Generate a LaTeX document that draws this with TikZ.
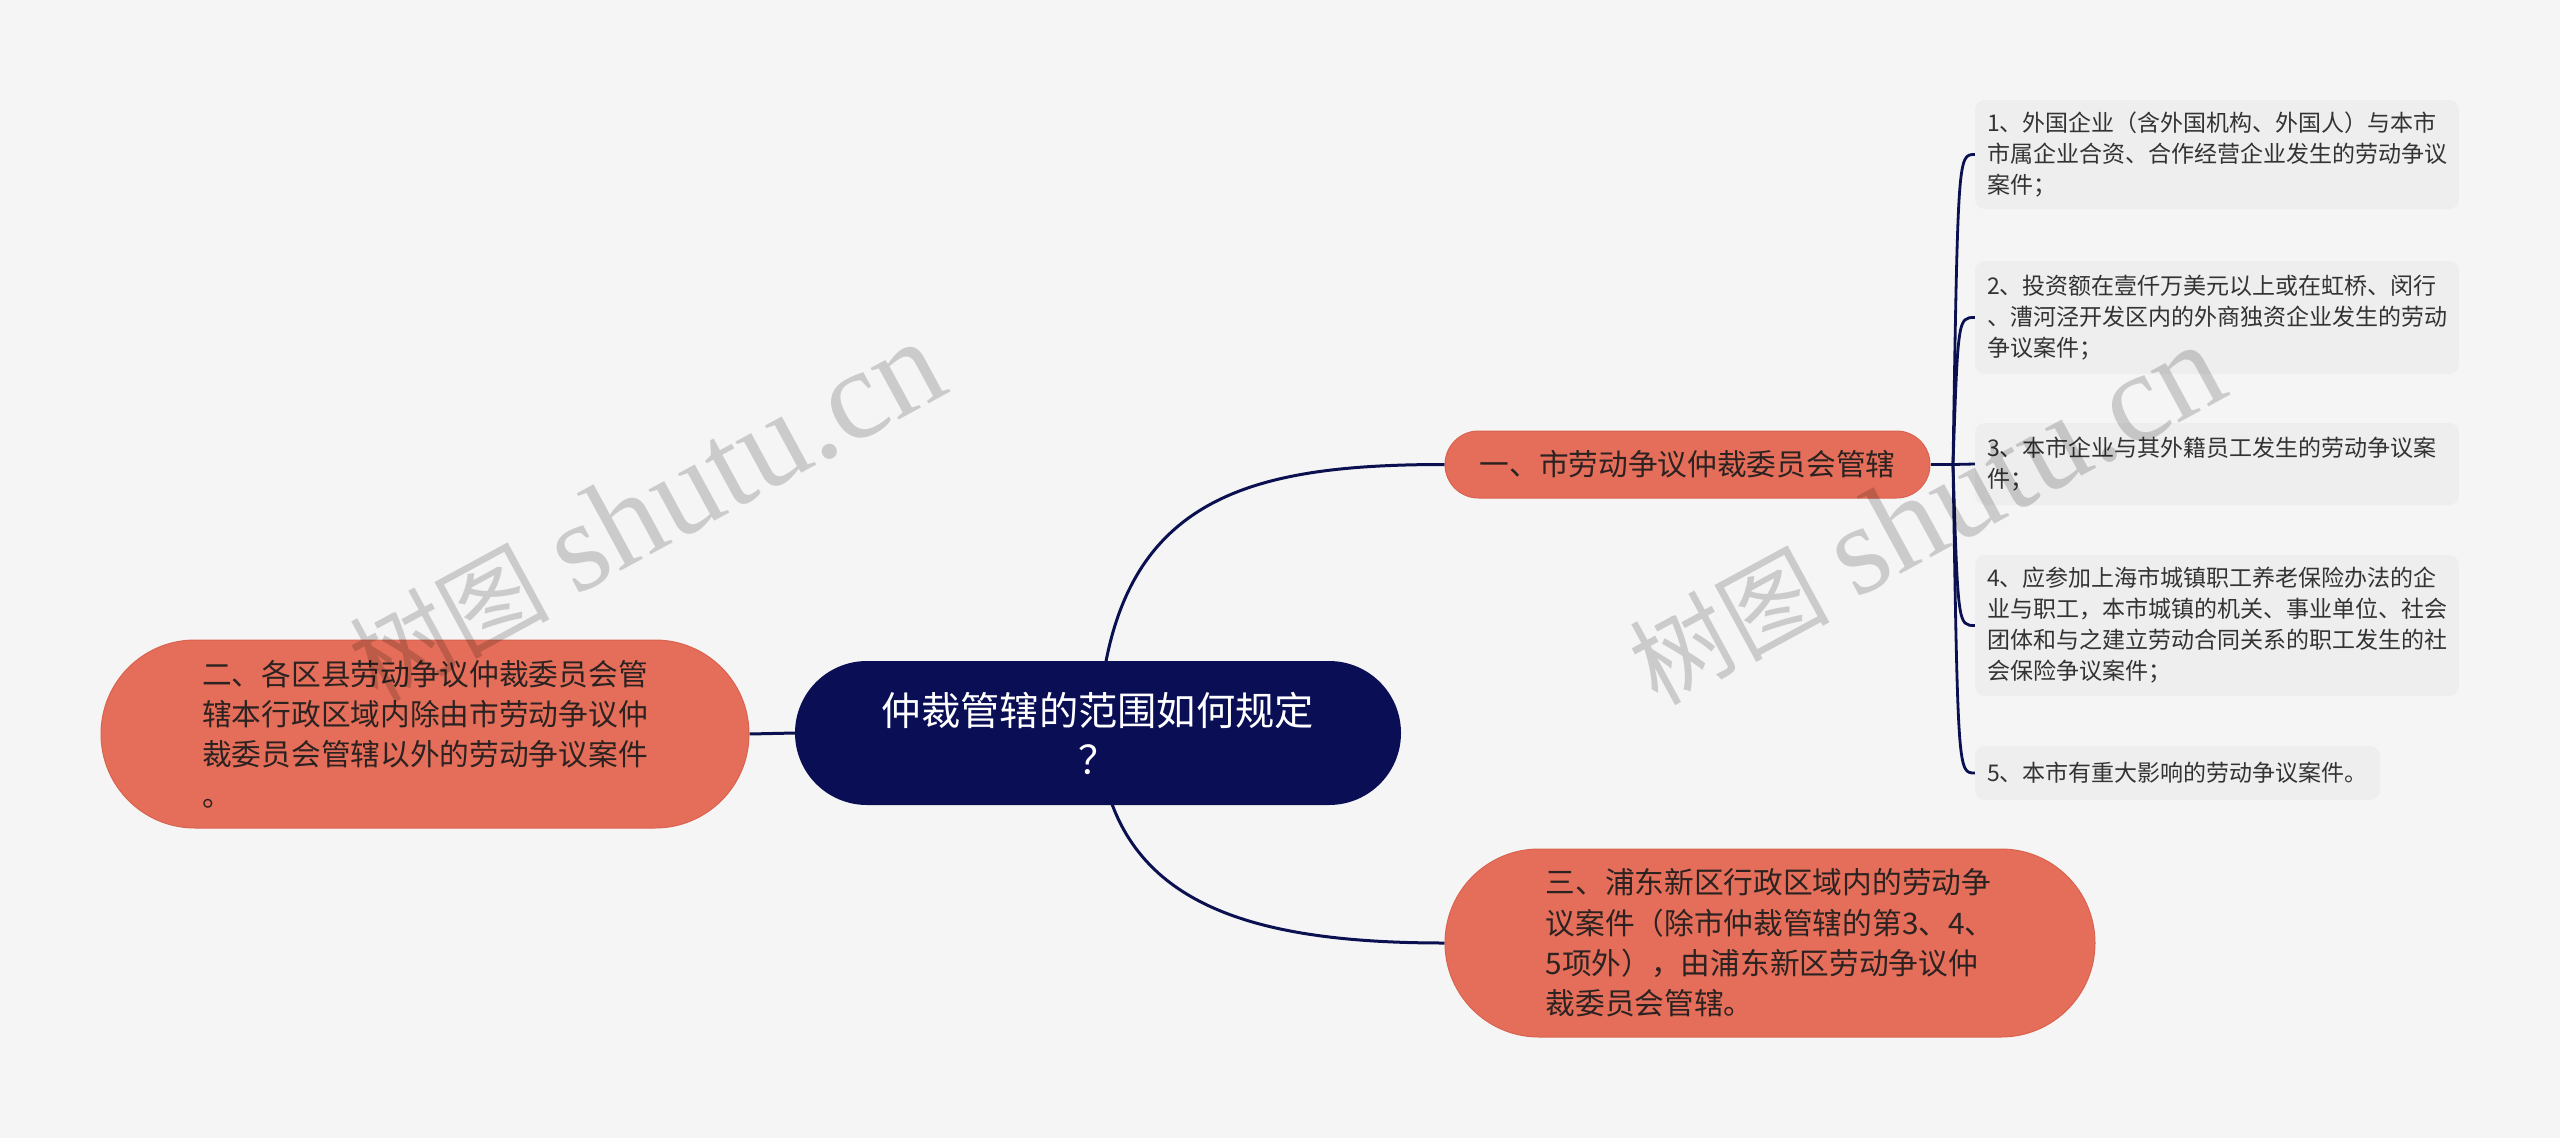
\documentclass[tikz,border=0pt]{standalone}
\usepackage{fontspec}
\setmainfont{Noto Sans CJK SC}
\newfontfamily\wmserif{Liberation Serif}
\usetikzlibrary{shapes.misc,backgrounds}
\definecolor{bgcol}{HTML}{F5F5F5}
\definecolor{navy}{HTML}{0A0E55}
\definecolor{linecol}{HTML}{0B1150}
\definecolor{coral}{HTML}{E46E59}
\definecolor{coraledge}{HTML}{D9634F}
\definecolor{leafcol}{HTML}{EEEEEE}
\definecolor{darktext}{HTML}{2B2221}
\definecolor{leaftext}{HTML}{333333}
\tikzset{
  conn/.style={draw=linecol, line width=3pt},
  bconn/.style={draw=linecol, line width=2.8pt},
  rootbox/.style={rounded rectangle, fill=navy, text=white, align=center,
    font={\fontsize{39.3}{49}\selectfont}, inner sep=0pt},
  coralbox/.style={rounded rectangle, fill=coral, draw=coraledge, line width=1pt,
    text=darktext, align=left, font={\fontsize{29.7}{40.3}\selectfont}, inner sep=0pt},
  leafbox/.style={rectangle, rounded corners=10pt, fill=leafcol, text=leaftext,
    align=left, inner xsep=12pt, inner ysep=0pt, font={\fontsize{23}{31}\selectfont}},
  wmark/.style={rotate=28.5, text=black, text opacity=0.17, inner sep=0pt}
}
\newcommand{\wmtext}{{\fontsize{100}{100}\selectfont 树图}\hspace{25pt}{\wmserif\fontsize{128}{128}\selectfont shutu.cn}}
\begin{document}
\begin{tikzpicture}[x=1pt,y=-1pt]
\useasboundingbox (0,0) rectangle (2560,1138);
% nodes
\node[rootbox, minimum width=606pt, minimum height=144pt] (c) at (1098,733)
  {仲裁管辖的范围如何规定\\？};
\node[coralbox, minimum width=648pt, minimum height=188pt] (left) at (425,734)
  {二、各区县劳动争议仲裁委员会管\\辖本行政区域内除由市劳动争议仲\\裁委员会管辖以外的劳动争议案件\\。};
\node[coralbox, minimum width=485pt, minimum height=67pt] (one) at (1687.5,464.5)
  {一、市劳动争议仲裁委员会管辖};
\node[coralbox, minimum width=650pt, minimum height=188pt] (three) at (1770,943)
  {三、浦东新区行政区域内的劳动争\\议案件（除市仲裁管辖的第3、4、\\5项外），由浦东新区劳动争议仲\\裁委员会管辖。};
\node[leafbox, text width=460pt, minimum height=109pt] (l1) at (2217,154.5)
  {1、外国企业（含外国机构、外国人）与本市\\市属企业合资、合作经营企业发生的劳动争议\\案件；};
\node[leafbox, text width=460pt, minimum height=113pt] (l2) at (2217,317.5)
  {2、投资额在壹仟万美元以上或在虹桥、闵行\\、漕河泾开发区内的外商独资企业发生的劳动\\争议案件；};
\node[leafbox, text width=460pt, minimum height=82pt] (l3) at (2217,464)
  {3、本市企业与其外籍员工发生的劳动争议案\\件；};
\node[leafbox, text width=460pt, minimum height=141pt] (l4) at (2217,625.5)
  {4、应参加上海市城镇职工养老保险办法的企\\业与职工，本市城镇的机关、事业单位、社会\\团体和与之建立劳动合同关系的职工发生的社\\会保险争议案件；};
\node[leafbox, text width=381pt, minimum height=54pt] (l5) at (2177.5,773)
  {5、本市有重大影响的劳动争议案件。};
\coordinate (br) at (1953,464.5);
% connectors and background
\begin{pgfonlayer}{background}
\fill[bgcol] (0,0) rectangle (2560,1138);
\draw[conn] (c.west) -- (left.east);
\draw[conn] (c.center) .. controls (1108,500) and (1240,464.5) .. (one.west);
\draw[conn] (c.center) .. controls (1108,900) and (1240,943) .. (three.west);
\draw[conn] (one.east) -- (br);
\draw[bconn] (br) .. controls (1958,154.5) .. (l1.west);
\draw[bconn] (br) .. controls (1958,317.5) .. (l2.west);
\draw[bconn] (br) -- (l3.west);
\draw[bconn] (br) .. controls (1958,625.5) .. (l4.west);
\draw[bconn] (br) .. controls (1958,773) .. (l5.west);
\end{pgfonlayer}
% watermarks
\node[wmark] (wm1) at (646,512) {\wmtext};
\node[wmark] (wm2) at (1926,515) {\wmtext};
\end{tikzpicture}
\end{document}
